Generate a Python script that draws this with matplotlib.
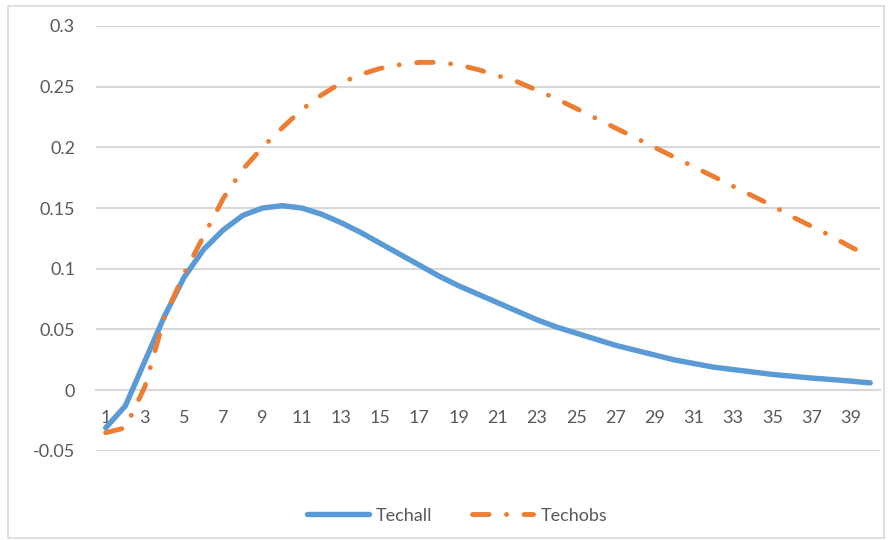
import numpy as np
import matplotlib
matplotlib.use("Agg")
import matplotlib.pyplot as plt

# periods 1..40
periods = np.arange(1, 41)

# Techall (blue solid)
techall = [-0.031, -0.013, 0.024, 0.061, 0.093, 0.116, 0.132, 0.144, 0.150, 0.152,
           0.150, 0.145, 0.138, 0.130, 0.121, 0.112, 0.103, 0.094, 0.086, 0.079,
           0.072, 0.065, 0.058, 0.052, 0.047, 0.042, 0.037, 0.033, 0.029, 0.025,
           0.022, 0.019, 0.017, 0.015, 0.013, 0.0115, 0.010, 0.0088, 0.0075, 0.006]

# Techobs (orange dash-dot)
techobs = [-0.035, -0.031, 0.003, 0.060, 0.096, 0.127, 0.158, 0.182, 0.200, 0.216,
           0.231, 0.243, 0.253, 0.260, 0.265, 0.268, 0.270, 0.270, 0.268, 0.264,
           0.259, 0.254, 0.247, 0.240, 0.232, 0.224, 0.216, 0.208, 0.200, 0.192,
           0.184, 0.176, 0.168, 0.160, 0.152, 0.143, 0.135, 0.127, 0.118, 0.110]

yticks = [-0.05, 0, 0.05, 0.1, 0.15, 0.2, 0.25, 0.3]
ylabels = ["-0.05", "0", "0.05", "0.1", "0.15", "0.2", "0.25", "0.3"]

BLUE = "#5b9bd5"
ORANGE = "#ed7d31"
GRID = "#d9d9d9"
TEXT = "#595959"

plt.rcParams["font.family"] = ["Lato", "DejaVu Sans"]

fig = plt.figure(figsize=(8.88, 5.4), dpi=100)
ax = fig.add_axes([0.108, 0.165, 0.883, 0.787])

ax.plot(periods, techall, color=BLUE, lw=3.9, solid_capstyle="round",
        solid_joinstyle="round", label="Techall")
ax.plot(periods, techobs, color=ORANGE, lw=3.5, dash_capstyle="round",
        dashes=(3.4, 3.6, 0.01, 3.6), label="Techobs")

ax.set_xlim(0.5, 40.5)
ax.set_ylim(-0.05, 0.3)
ax.set_yticks(yticks)
ax.set_yticklabels(ylabels)
ax.set_xticks(periods[::2])
ax.set_xticklabels([str(p) for p in periods[::2]])

ax.grid(axis="y", color=GRID, lw=1.5)
ax.set_axisbelow(True)
for side in ["top", "right", "left"]:
    ax.spines[side].set_visible(False)
ax.spines["bottom"].set_position(("data", 0))
ax.spines["bottom"].set_color(GRID)
ax.spines["bottom"].set_linewidth(1.5)
ax.spines["bottom"].set_zorder(0.5)

ax.tick_params(axis="y", length=0, pad=15, labelsize=13, labelcolor=TEXT)
ax.tick_params(axis="x", length=0, pad=14, labelsize=13, labelcolor=TEXT)

leg = fig.legend(loc="lower center", bbox_to_anchor=(0.515, 0.0), ncol=2,
                 frameon=False, fontsize=13, handlelength=3.4, columnspacing=2.2,
                 handletextpad=0.4)
for t in leg.get_texts():
    t.set_color(TEXT)

# outer chart border
fig.patches.append(plt.Rectangle((0.009, 0.004), 0.986, 0.985, transform=fig.transFigure,
                                 fill=False, edgecolor=GRID, lw=1.2))

fig.savefig("out.png", dpi=100)
